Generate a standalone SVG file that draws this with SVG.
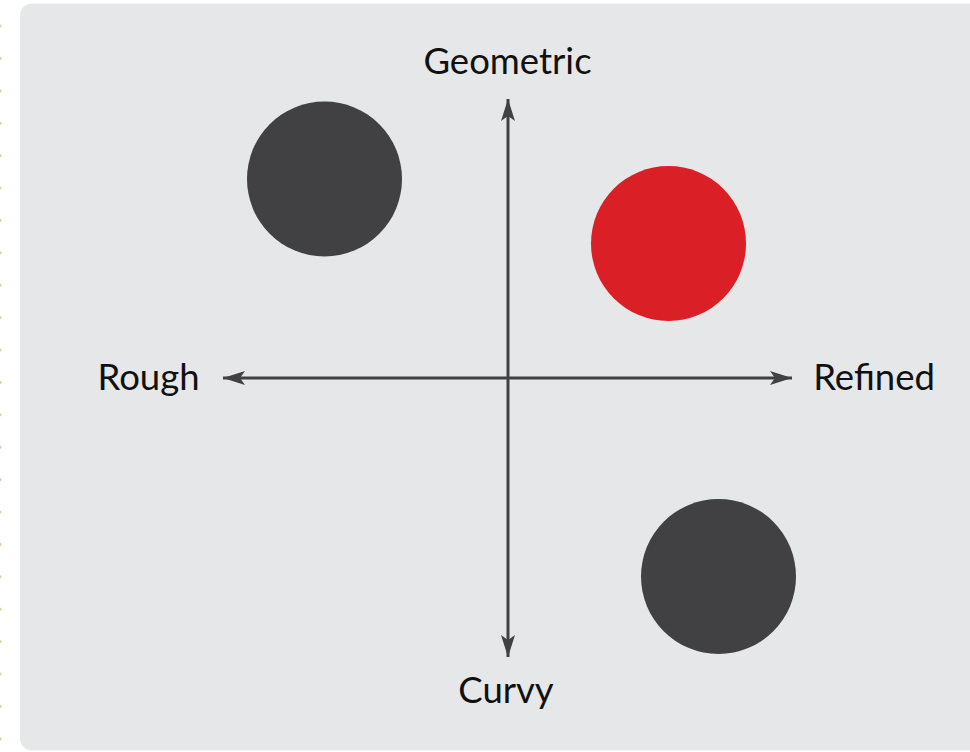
<svg xmlns="http://www.w3.org/2000/svg" width="970" height="752" viewBox="0 0 970 752">
<defs>
<style>
.lbl{font-family:Lato,"Noto Sans","Liberation Sans",sans-serif;font-size:36.5px;fill:#111111}
.ax{stroke:#414042;stroke-width:3;fill:none}
.dot{fill:#e3cba9}
</style>
<marker id="ah" viewBox="0 0 22 14" refX="22" refY="7" markerWidth="22" markerHeight="14" markerUnits="userSpaceOnUse" orient="auto-start-reverse">
<path d="M0,0 L22,7 L0,14 L5,7 Z" fill="#414042"/>
</marker>
</defs>
<rect width="970" height="752" fill="#ffffff"/>
<g id="edge-dots">
<circle class="dot" cx="0" cy="26" r="1.6"/><circle class="dot" cx="0" cy="58.4" r="1.6"/><circle class="dot" cx="0" cy="90.8" r="1.6"/><circle class="dot" cx="0" cy="123.2" r="1.6"/><circle class="dot" cx="0" cy="155.6" r="1.6"/><circle class="dot" cx="0" cy="188" r="1.6"/><circle class="dot" cx="0" cy="220.4" r="1.6"/><circle class="dot" cx="0" cy="252.8" r="1.6"/><circle class="dot" cx="0" cy="285.2" r="1.6"/><circle class="dot" cx="0" cy="317.6" r="1.6"/><circle class="dot" cx="0" cy="350" r="1.6"/><circle class="dot" cx="0" cy="382.4" r="1.6"/><circle class="dot" cx="0" cy="414.8" r="1.6"/><circle class="dot" cx="0" cy="447.2" r="1.6"/><circle class="dot" cx="0" cy="479.6" r="1.6"/><circle class="dot" cx="0" cy="512" r="1.6"/><circle class="dot" cx="0" cy="544.4" r="1.6"/><circle class="dot" cx="0" cy="576.8" r="1.6"/><circle class="dot" cx="0" cy="609.2" r="1.6"/><circle class="dot" cx="0" cy="641.6" r="1.6"/><circle class="dot" cx="0" cy="674" r="1.6"/><circle class="dot" cx="0" cy="706.4" r="1.6"/><circle class="dot" cx="0" cy="738.8" r="1.6"/>
</g>
<rect id="panel" x="20" y="3.5" width="970" height="747" rx="12" fill="#e6e7e8"/>
<g id="connectors">
<line class="ax" x1="508" y1="378" x2="508" y2="99" marker-end="url(#ah)"/>
<line class="ax" x1="508" y1="378" x2="508" y2="657" marker-end="url(#ah)"/>
<line class="ax" x1="508" y1="378" x2="223" y2="378" marker-end="url(#ah)"/>
<line class="ax" x1="508" y1="378" x2="792" y2="378" marker-end="url(#ah)"/>
</g>
<g id="circle-top-left"><circle cx="324.5" cy="179" r="77.5" fill="#414042"/></g>
<g id="circle-red"><circle cx="668.5" cy="243.5" r="77.5" fill="#da1f26"/></g>
<g id="circle-bottom-right"><circle cx="718.5" cy="576.5" r="77.5" fill="#414042"/></g>
<g id="label-geometric"><text class="lbl" x="507.5" y="74" text-anchor="middle">Geometric</text></g>
<g id="label-rough"><text class="lbl" x="148.5" y="390" text-anchor="middle">Rough</text></g>
<g id="label-refined"><text class="lbl" x="874" y="390" text-anchor="middle">Refined</text></g>
<g id="label-curvy"><text class="lbl" x="506" y="703" text-anchor="middle">Curvy</text></g>
</svg>
